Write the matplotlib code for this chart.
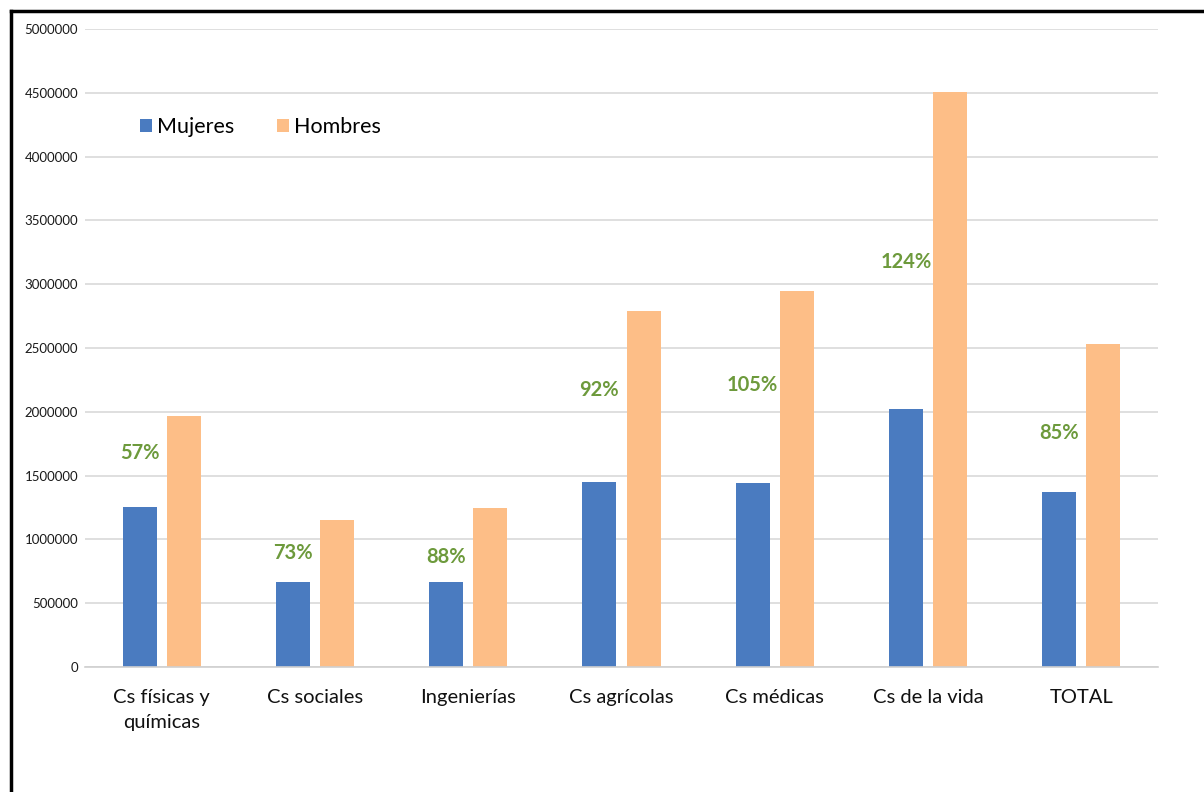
import matplotlib
matplotlib.use("Agg")
import matplotlib.pyplot as plt
from matplotlib.lines import Line2D
import numpy as np

# == data
categorias = ["Cs físicas y\nquímicas", "Cs sociales", "Ingenierías", "Cs agrícolas",
              "Cs médicas", "Cs de la vida", "TOTAL"]
mujeres = [1255000, 666000, 666000, 1450000, 1442000, 2022000, 1371000]
hombres = [1967000, 1152000, 1246000, 2790000, 2947000, 4506000, 2531000]
brecha = ["57%", "73%", "88%", "92%", "105%", "124%", "85%"]
# height where each gap label sits (placed by hand in the original)
brecha_y = [1677000, 893000, 862000, 2171000, 2210000, 3174000, 1834000]

plt.rcParams["font.family"] = ["Lato", "DejaVu Sans"]

fig = plt.figure(figsize=(12.04, 7.92), dpi=100)
ax = fig.add_axes([85/1204, 1-667/792, (1158-85)/1204, (667-29)/792])

x = np.arange(len(categorias))
w = 0.222
off = 0.144
ax.bar(x - off, mujeres, w, color="#4a7bc0", label="Mujeres")
ax.bar(x + off, hombres, w, color="#fdbe87", label="Hombres")

for xi, t, yi in zip(x, brecha, brecha_y):
    ax.text(xi - off, yi, t, ha="center", va="center", fontsize=14.5,
            fontweight="bold", color="#6d9a3c")

ax.set_xlim(-0.5, 6.5)
ax.set_ylim(0, 5000000)
ax.set_yticks(np.arange(0, 5000001, 500000))
ax.set_yticklabels([str(v) for v in range(0, 5000001, 500000)],
                   fontsize=9.5, color="#1a1a1a")
ax.set_xticks(x)
ax.set_xticklabels(categorias, fontsize=14.5, color="#111111", linespacing=1.55)
ax.tick_params(length=0)
ax.tick_params(axis="y", pad=5)
ax.tick_params(axis="x", pad=16)

ax.grid(axis="y", color="#d9d9d9", linewidth=1.2)
ax.set_axisbelow(True)
for s in ["top", "right", "left"]:
    ax.spines[s].set_visible(False)
ax.spines["bottom"].set_color("#d0d0d0")
ax.spines["bottom"].set_linewidth(1.2)

ax.legend(loc="center left", bbox_to_anchor=(0.051, 0.846), ncol=2, frameon=False,
          fontsize=15.5, handlelength=0.55, handleheight=0.55, handletextpad=0.25,
          columnspacing=2.0, borderpad=0, borderaxespad=0)

# black frame around the chart (only top and left edges visible)
fig.add_artist(Line2D([11/1204, 11/1204], [0, 1-11/792], color="black",
                      linewidth=2.5, transform=fig.transFigure))
fig.add_artist(Line2D([11/1204, 1], [1-11/792, 1-11/792], color="black",
                      linewidth=2.5, transform=fig.transFigure))

fig.savefig("out.png", dpi=100)
